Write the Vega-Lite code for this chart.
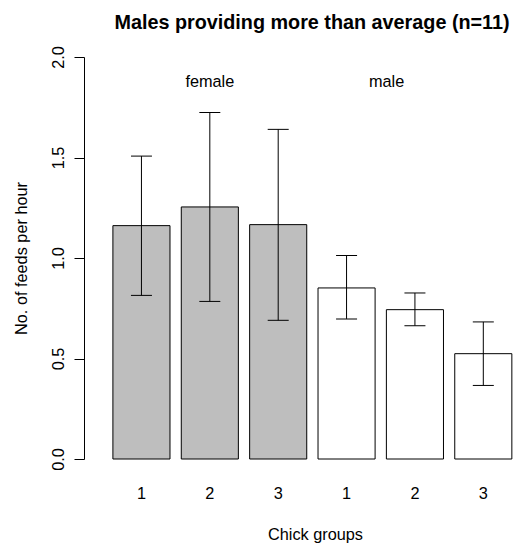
{
  "$schema": "https://vega.github.io/schema/vega-lite/v6.json",
  "width": 436,
  "height": 402,
  "autosize": {"type": "none"},
  "padding": {"left": 84, "top": 57, "right": 0, "bottom": 88},
  "background": "white",
  "config": {"view": {"stroke": null}, "font": "Liberation Sans"},
  "title": {
    "text": "Males providing more than average (n=11)",
    "fontSize": 19.8,
    "fontWeight": "bold",
    "font": "Liberation Sans",
    "color": "black",
    "anchor": "middle",
    "frame": "group",
    "dx": 10,
    "dy": 23,
    "offset": 20,
    "baseline": "alphabetic"
  },
  "data": {
    "values": [
      {"bar": "female 1", "sex": "female", "mean": 1.161, "lower": 0.814, "upper": 1.507},
      {"bar": "female 2", "sex": "female", "mean": 1.254, "lower": 0.784, "upper": 1.724},
      {"bar": "female 3", "sex": "female", "mean": 1.166, "lower": 0.690, "upper": 1.640},
      {"bar": "male 1", "sex": "male", "mean": 0.851, "lower": 0.697, "upper": 1.013},
      {"bar": "male 2", "sex": "male", "mean": 0.743, "lower": 0.663, "upper": 0.826},
      {"bar": "male 3", "sex": "male", "mean": 0.524, "lower": 0.366, "upper": 0.682}
    ]
  },
  "encoding": {
    "x": {
      "field": "bar",
      "type": "nominal",
      "sort": null,
      "scale": {"paddingInner": 0.165, "paddingOuter": 0.271, "align": 0.78},
      "axis": {
        "title": "Chick groups",
        "domain": false,
        "ticks": false,
        "tickSize": 0,
        "labelAngle": 0,
        "labelFontSize": 16.3,
        "labelColor": "black",
        "labelBaseline": "alphabetic",
        "labelPadding": 39,
        "labelExpr": "split(datum.label, ' ')[1]",
        "titleFontSize": 16.3,
        "titleFontWeight": "normal",
        "titleColor": "black",
        "titleBaseline": "alphabetic",
        "titleAlign": "center",
        "titleX": 231,
        "titleY": 80
      }
    }
  },
  "layer": [
    {
      "mark": {"type": "bar", "stroke": "black", "strokeWidth": 1},
      "encoding": {
        "y": {
          "field": "mean",
          "type": "quantitative",
          "title": "No. of feeds per hour",
          "scale": {"domain": [0, 2], "nice": false, "zero": true},
          "axis": {
            "values": [0, 0.5, 1, 1.5, 2],
            "format": ".1f",
            "grid": false,
            "domainColor": "black",
            "tickColor": "black",
            "tickSize": 10,
            "labelAngle": 270,
            "labelAlign": "center",
            "labelBaseline": "alphabetic",
            "labelPadding": 11,
            "labelFontSize": 16.3,
            "labelColor": "black",
            "labelFlush": false,
            "labelOverlap": false,
            "titleFontSize": 16.3,
            "titleFontWeight": "normal",
            "titleColor": "black",
            "titleAngle": 270,
            "titleAlign": "center",
            "titleBaseline": "alphabetic",
            "titleX": -58,
            "titleY": 201
          }
        },
        "fill": {
          "field": "sex",
          "type": "nominal",
          "scale": {"domain": ["female", "male"], "range": ["#BEBEBE", "#FFFFFF"]},
          "legend": null
        }
      }
    },
    {
      "mark": {"type": "rule", "color": "black", "strokeWidth": 1},
      "encoding": {
        "y": {"field": "lower", "type": "quantitative", "title": "No. of feeds per hour"},
        "y2": {"field": "upper"}
      }
    },
    {
      "mark": {"type": "tick", "color": "black", "size": 21, "thickness": 1, "opacity": 1},
      "encoding": {
        "y": {"field": "lower", "type": "quantitative", "title": "No. of feeds per hour"}
      }
    },
    {
      "mark": {"type": "tick", "color": "black", "size": 21, "thickness": 1, "opacity": 1},
      "encoding": {
        "y": {"field": "upper", "type": "quantitative", "title": "No. of feeds per hour"}
      }
    },
    {
      "data": {"values": [{"bar": "female 2", "label": "female"}]},
      "mark": {"type": "text", "fontSize": 16.3, "baseline": "alphabetic", "align": "center", "color": "black"},
      "encoding": {
        "y": {"datum": 1.85, "type": "quantitative"},
        "text": {"field": "label"}
      }
    },
    {
      "data": {"values": [{"bar": "male 1", "label": "male"}]},
      "mark": {"type": "text", "fontSize": 16.3, "baseline": "alphabetic", "align": "center", "color": "black", "dx": 40},
      "encoding": {
        "y": {"datum": 1.85, "type": "quantitative"},
        "text": {"field": "label"}
      }
    }
  ]
}
